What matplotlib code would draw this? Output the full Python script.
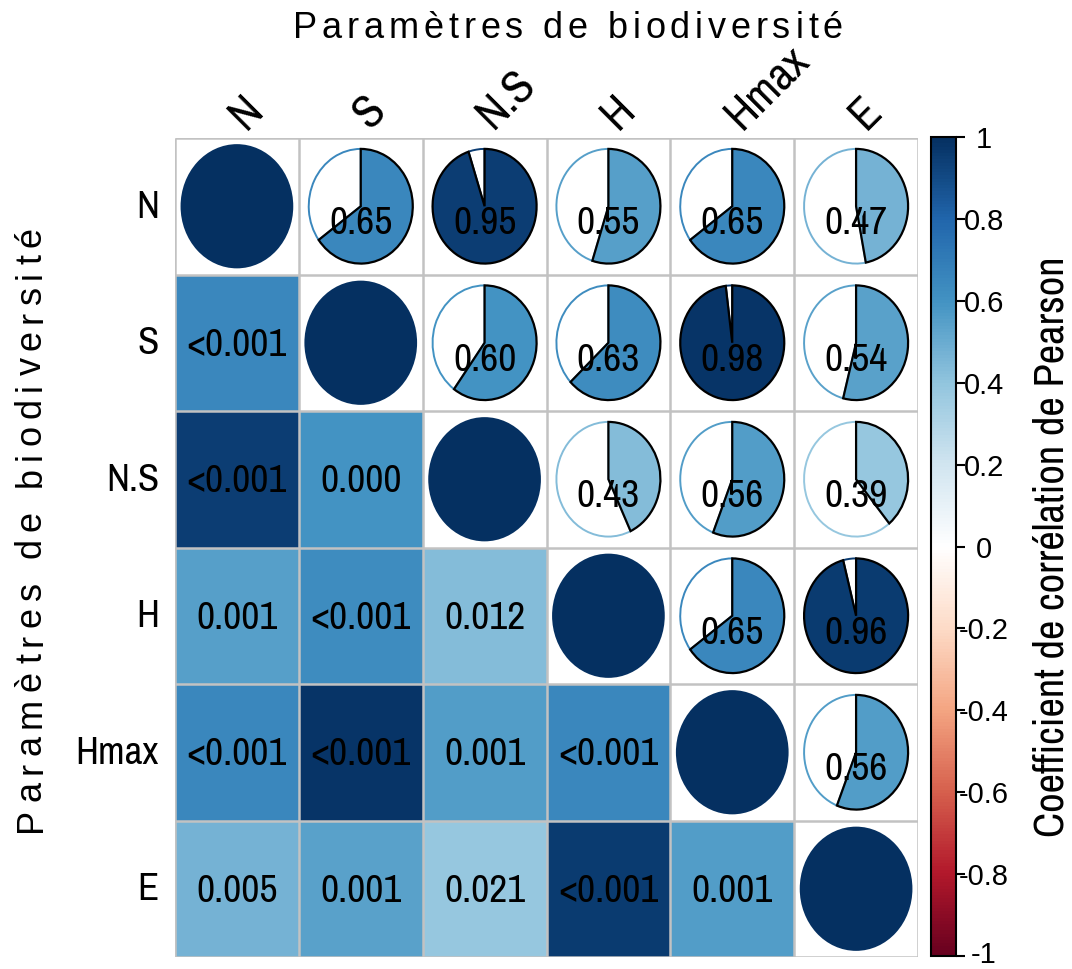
import os
import numpy as np
import matplotlib
matplotlib.use("Agg")
import matplotlib.pyplot as plt
from matplotlib.patches import Wedge, Circle, Rectangle
from matplotlib.colors import LinearSegmentedColormap, Normalize
from matplotlib.cm import ScalarMappable
from matplotlib.transforms import blended_transform_factory, offset_copy
from matplotlib import font_manager
from matplotlib.font_manager import FontProperties

# ---- data -------------------------------------------------------------
labels = ["N", "S", "N.S", "H", "Hmax", "E"]

# Pearson r (upper triangle, row by row)
r_N = [0.65, 0.95, 0.55, 0.65, 0.47]
r_S = [0.60, 0.63, 0.98, 0.54]
r_NS = [0.43, 0.56, 0.39]
r_H = [0.65, 0.96]
r_Hmax = [0.56]

# p-values (lower triangle, row by row)
p_S = ["<0.001"]
p_NS = ["<0.001", "0.000"]
p_H = ["0.001", "<0.001", "0.012"]
p_Hmax = ["<0.001", "<0.001", "0.001", "<0.001"]
p_E = ["0.005", "0.001", "0.021", "<0.001", "0.001"]

cbar_ticks = [1, 0.8, 0.6, 0.4, 0.2, 0, -0.2, -0.4, -0.6, -0.8, -1]
cbar_ticklabels = ["1", "0.8", "0.6", "0.4", "0.2", "0",
                   "-0.2", "-0.4", "-0.6", "-0.8", "-1"]

axis_title = "Paramètres de biodiversité"
cbar_title = "Coefficient de corrélation de Pearson"

# ---- matrices ---------------------------------------------------------
n = len(labels)
R = np.eye(n)
for i, row in enumerate([r_N, r_S, r_NS, r_H, r_Hmax]):
    for k, v in enumerate(row):
        j = i + 1 + k
        R[i, j] = R[j, i] = v
P = [[None] * n for _ in range(n)]
for i, row in zip(range(1, n), [p_S, p_NS, p_H, p_Hmax, p_E]):
    for j, v in enumerate(row):
        P[i][j] = v


# ---- fonts ------------------------------------------------------------
def condensed_font():
    """Pick a regular-weight narrow/condensed sans face if one is installed."""
    best = None
    for f in font_manager.fontManager.ttflist:
        name = f.name.lower()
        base = os.path.basename(f.fname).lower()
        if any(b in name for b in ("mono", "cjk", "serif", "display")):
            continue
        cond = (f.stretch in ("condensed", "semi-condensed")
                or "narrow" in name or "condensed" in name
                or "narrow" in base or "condensed" in base)
        if not cond or f.style != "normal":
            continue
        w = f.weight if isinstance(f.weight, int) else font_manager.weight_dict.get(f.weight, 400)
        if w != 400:
            continue
        if "narrow" in name or "narrow" in base:
            rank = 0
        elif "roboto" in name:
            rank = 1
        elif "noto sans" in name:
            rank = 2
        elif "open sans" in name:
            rank = 3
        elif "dejavu" in name:
            rank = 4
        else:
            rank = 5
        sub = 1 if any(s in base for s in ("semi", "extra", "ultra")) else 0
        key = (rank, sub)
        if best is None or key < best[0]:
            best = (key, f.fname)
    return best[1] if best else None


_cond_path = condensed_font()
WIDE = "Liberation Sans"


def narrow_prop(size):
    if _cond_path:
        return FontProperties(fname=_cond_path, size=size)
    return FontProperties(family=WIDE, size=size * 0.85)


cmap = LinearSegmentedColormap.from_list(
    "rdbu_corr",
    ["#67001F", "#B2182B", "#D6604D", "#F4A582", "#FDDBC7", "#FFFFFF",
     "#D1E5F0", "#92C5DE", "#4393C3", "#2166AC", "#053061"], N=256)
norm = Normalize(-1, 1)

W, H = 1072, 970
fig = plt.figure(figsize=(W / 100, H / 100), dpi=100)

# main grid: 6 x 6 cells
left, right, top, bottom = 175, 918, 139, 958
ax = fig.add_axes([left / W, 1 - bottom / H, (right - left) / W, (bottom - top) / H])
ax.set_xlim(0, n)
ax.set_ylim(n, 0)
ax.axis("off")

cell_prop = narrow_prop(28.5)

for i in range(n):
    for j in range(n):
        cx, cy = j + 0.5, i + 0.5
        col = cmap(norm(R[i, j]))
        if i > j:
            ax.add_patch(Rectangle((j, i), 1, 1, facecolor=col, edgecolor="none", zorder=1))
            ax.text(cx, cy + 0.01, P[i][j], ha="center", va="center", zorder=5,
                    fontproperties=cell_prop, color="black")
        elif i == j:
            ax.add_patch(Circle((cx, cy), 0.455, facecolor=col, edgecolor="none", zorder=2))
        else:
            rad = 0.42
            frac = R[i, j]
            # empty part of the pie, outlined in the value colour
            ax.add_patch(Wedge((cx, cy), rad, 270 + 360 * frac, 270 + 360,
                               facecolor="white", edgecolor=col, lw=1.4, zorder=2))
            # filled part, clockwise from 12 o'clock
            ax.add_patch(Wedge((cx, cy), rad, 270, 270 + 360 * frac,
                               facecolor=col, edgecolor="black", lw=1.6, zorder=3))
            ax.text(cx, cy + 0.12, f"{R[i, j]:.2f}", ha="center", va="center",
                    zorder=5, fontproperties=cell_prop, color="black")

ax.vlines(np.arange(n + 1), 0, n, colors="#C2C2C2", lw=1.8, zorder=4)
ax.hlines(np.arange(n + 1), 0, n, colors="#C2C2C2", lw=1.8, zorder=4)

# row and column labels
row_prop = narrow_prop(28)
col_prop = narrow_prop(33)
for k, lab in enumerate(labels):
    ax.text(-0.13, k + 0.5, lab, ha="right", va="center", fontproperties=row_prop)
    ax.text(k + 0.5 + 0.12, -0.02, lab, rotation=45, rotation_mode="anchor",
            ha="left", va="bottom", fontproperties=col_prop)


# letter-spaced axis titles
def spaced_text(s, x0, y0, size, length, vertical=False):
    prop = FontProperties(family=WIDE, size=size)
    renderer = fig.canvas.get_renderer()
    total = renderer.get_text_width_height_descent(s, prop, ismath=False)[0]
    font = font_manager.get_font(font_manager.findfont(prop))
    font.set_size(size, fig.dpi)
    adv = np.array([font.load_char(ord(c)).linearHoriAdvance for c in s], float)
    adv *= total / adv.sum()
    gap = (length - total) / (len(s) - 1)
    starts = np.concatenate([[0.0], np.cumsum(adv[:-1] + gap)])
    for c, off in zip(s, starts):
        if vertical:
            px, py = x0, y0 - off
        else:
            px, py = x0 + off, y0
        fig.text(px / W, 1 - py / H, c, fontproperties=prop,
                 rotation=90 if vertical else 0, rotation_mode="anchor",
                 ha="left", va="baseline")


spaced_text(axis_title, 293, 38, 26, 550)
spaced_text(axis_title, 41, 832, 26, 605, vertical=True)

# colour bar
cax = fig.add_axes([931 / W, 1 - 957 / H, 25 / W, (957 - 138) / H])
cb = fig.colorbar(ScalarMappable(norm=norm, cmap=cmap), cax=cax)
cb.set_ticks(cbar_ticks)
cax.set_yticklabels([])
cax.tick_params(axis="y", direction="out", length=6.5, width=1.5, color="black",
                right=True, left=False)
cb.outline.set_linewidth(1.5)
cb.outline.set_edgecolor("black")
trans = blended_transform_factory(cax.transAxes, cax.transData)
tick_x = (984 - 931) / 25
tick_texts = []
for v, lab in zip(cbar_ticks, cbar_ticklabels):
    tick_texts.append(cax.text(tick_x, v - 0.005, lab, transform=trans, ha="center",
                               va="center", family=WIDE, size=21))

# colour bar title
t = fig.text(1055 / W, 1 - 547 / H, cbar_title, rotation=90, ha="center",
             va="center", fontproperties=narrow_prop(26))
fig.canvas.draw()
ext = t.get_window_extent()
t.set_fontsize(t.get_fontsize() * 580 / ext.height)

# keep the outermost texts inside the canvas
fig.canvas.draw()
low = tick_texts[-1]
bb = low.get_window_extent()
if bb.y0 < 1:
    low.set_transform(offset_copy(trans, fig=fig, x=0, y=1 - bb.y0, units="dots"))
bb = t.get_window_extent()
if bb.x1 > W - 1:
    t.set_x((1055 - (bb.x1 - (W - 1))) / W)

fig.savefig("out.png", dpi=100)
